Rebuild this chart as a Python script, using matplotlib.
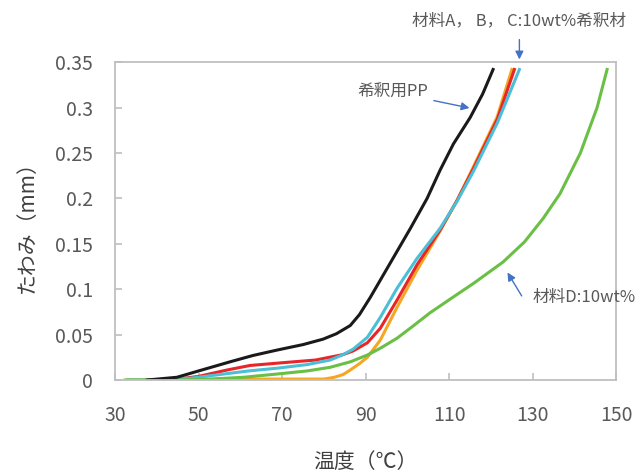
import matplotlib
matplotlib.use("Agg")
from matplotlib import pyplot as plt

plt.rcParams['font.family'] = ['Noto Sans CJK JP', 'DejaVu Sans']

# 読み取った測定データ (温度 ℃, たわみ mm)
t_pp = [37.7, 44.8, 50, 57.5, 63, 68.8, 75, 79.8, 83, 86.3, 88.5, 91.1, 95.9, 100.7, 104.7, 107.8, 111, 115, 118, 120.5]
d_pp = [0, 0.003, 0.010, 0.020, 0.027, 0.033, 0.039, 0.045, 0.051, 0.060, 0.072, 0.091, 0.129, 0.167, 0.200, 0.231, 0.260, 0.289, 0.315, 0.342]

t_a = [33, 40, 48, 55, 65, 75, 80, 82.5, 84.6, 86.3, 88.5, 90.4, 93.5, 97.5, 102.3, 107.8, 111.9, 115.7, 121.5, 125]
d_a = [0, 0, 0, 0.001, 0.001, 0.001, 0.001, 0.003, 0.006, 0.011, 0.018, 0.025, 0.044, 0.080, 0.121, 0.164, 0.198, 0.234, 0.290, 0.342]

t_b = [38, 45, 50, 56.8, 62.3, 70, 78, 84.6, 87, 90.4, 93.5, 97.5, 102.3, 107.8, 111.9, 115.7, 121.5, 125.6]
d_b = [0, 0.001, 0.004, 0.011, 0.016, 0.019, 0.022, 0.028, 0.032, 0.041, 0.057, 0.088, 0.127, 0.165, 0.198, 0.232, 0.287, 0.342]

t_c = [33, 40, 48, 55, 62, 68.8, 76, 81.5, 84.6, 87, 90.4, 93.5, 97.5, 102.3, 107.8, 111.9, 115.7, 121.5, 126.8]
d_c = [0, 0, 0.002, 0.006, 0.010, 0.013, 0.017, 0.022, 0.028, 0.034, 0.047, 0.069, 0.101, 0.134, 0.167, 0.197, 0.229, 0.283, 0.342]

t_d = [32.4, 45, 52.8, 60.7, 68.8, 76, 81.5, 86.3, 90.4, 93.5, 97.5, 101.5, 105.4, 110.2, 116, 122.9, 128, 132.5, 136.5, 141.4, 145.4, 147.8]
d_d = [0, 0, 0.001, 0.003, 0.0066, 0.010, 0.014, 0.020, 0.0275, 0.035, 0.046, 0.060, 0.074, 0.089, 0.107, 0.130, 0.152, 0.178, 0.205, 0.250, 0.300, 0.342]

xticks = [30, 50, 70, 90, 110, 130, 150]
yticks = [0, 0.05, 0.1, 0.15, 0.2, 0.25, 0.3, 0.35]
ylabels = ['0', '0.05', '0.1', '0.15', '0.2', '0.25', '0.3', '0.35']

gris = '#595959'
azul = '#4472c4'
borde = '#bfbfbf'

fig = plt.figure(figsize=(6.36, 4.75), dpi=100)
ax = fig.add_axes([0.181, 0.2, 0.788, 0.669])

ax.plot(t_a, d_a, color='#f5a623', lw=2.2)
ax.plot(t_b, d_b, color='#e8262a', lw=2.2)
ax.plot(t_c, d_c, color='#4bbfd6', lw=2.2)
ax.plot(t_d, d_d, color='#6abf45', lw=2.2)
ax.plot(t_pp, d_pp, color='#1a1a1a', lw=2.2)

ax.set_xlim(30, 150)
ax.set_ylim(0, 0.35)
ax.set_xticks(xticks)
ax.set_yticks(yticks)
ax.set_yticklabels(ylabels)
ax.tick_params(axis='both', direction='in', length=5, width=1.2, color=borde,
               labelsize=14, labelcolor=gris)
ax.tick_params(axis='y', pad=16)
ax.tick_params(axis='x', pad=18)
for s in ax.spines.values():
    s.set_color(borde)
    s.set_linewidth(1.3)

ax.set_xlabel('温度（℃）', fontsize=15, color='#404040', labelpad=18)
ax.set_ylabel('たわみ（mm）', fontsize=15, color='#404040', labelpad=12)

flecha = dict(arrowstyle='-|>', color=azul, lw=1, mutation_scale=12)
ax.annotate('希釈用PP', xy=(115.5, 0.299), xytext=(105, 0.317),
            ha='right', va='center', fontsize=12, color=gris, arrowprops=flecha)
ax.annotate('', xy=(126.8, 0.35), xytext=(126.8, 0.378),
            arrowprops=flecha, annotation_clip=False)
ax.text(126.8, 0.396, '材料A， B， C:10wt%希釈材', ha='center', va='center',
        fontsize=12, color=gris, clip_on=False)
ax.annotate('', xy=(123.6, 0.121), xytext=(127.7, 0.090), arrowprops=flecha)
ax.text(129.9, 0.091, '材料D:10wt%', ha='left', va='center',
        fontsize=12, color=gris, clip_on=False)

fig.savefig('out.png', dpi=100)
